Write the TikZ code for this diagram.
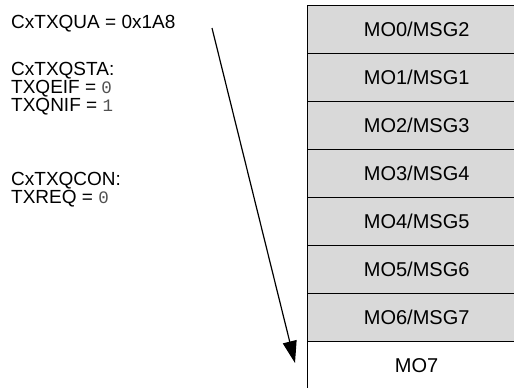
\documentclass[tikz,border=0pt]{standalone}
\usepackage{fontspec}
\setmainfont{Liberation Sans}
\setmonofont{Liberation Mono}
\usetikzlibrary{arrows.meta}
\definecolor{rowgray}{RGB}{217,217,217}
\definecolor{valgray}{RGB}{80,80,80}
\begin{document}
\begin{tikzpicture}[x=1pt,y=-1pt,
  rowbox/.style={draw=black, line width=1.3pt, fill=rowgray, minimum width=218pt, minimum height=48pt, inner sep=0pt, anchor=north west, font=\fontsize{20}{20}\selectfont},
  lastbox/.style={rowbox, fill=white},
  regtext/.style={anchor=base west, inner sep=0pt, font=\fontsize{19}{19}\selectfont},
  pointer/.style={line width=1.2pt, -{Triangle[length=22pt,width=14pt]}}]
\newcommand{\regval}[1]{{\fontsize{17.5}{17.5}\ttfamily\color{valgray}#1}}
\useasboundingbox (0,0) rectangle (514,388);
\fill[white] (0,0) rectangle (514,388);
\clip (0,0) rectangle (514,388);
% register text
\node[regtext] (qua) at (11,28) {CxTXQUA = 0x1A8};
\node[regtext] (qsta) at (11,75) {CxTXQSTA:};
\node[regtext] (qeif) at (11,93) {TXQEIF = \regval{0}};
\node[regtext] (qnif) at (11,111) {TXQNIF = \regval{1}};
\node[regtext] (qcon) at (11,185) {CxTXQCON:};
\node[regtext] (txreq) at (11,203) {TXREQ = \regval{0}};
% message object stack
\node[rowbox] (m0) at (307,5) {MO0/MSG2};
\node[rowbox] (m1) at (307,53) {MO1/MSG1};
\node[rowbox] (m2) at (307,101) {MO2/MSG3};
\node[rowbox] (m3) at (307,149) {MO3/MSG4};
\node[rowbox] (m4) at (307,197) {MO4/MSG5};
\node[rowbox] (m5) at (307,245) {MO5/MSG6};
\node[rowbox] (m6) at (307,293) {MO6/MSG7};
\node[lastbox] (m7) at (307,341) {MO7};
% pointer
\coordinate (ptrstart) at (212,28);
\coordinate (ptrend) at (295,363);
\draw[pointer] (ptrstart) -- (ptrend);
\end{tikzpicture}
\end{document}
